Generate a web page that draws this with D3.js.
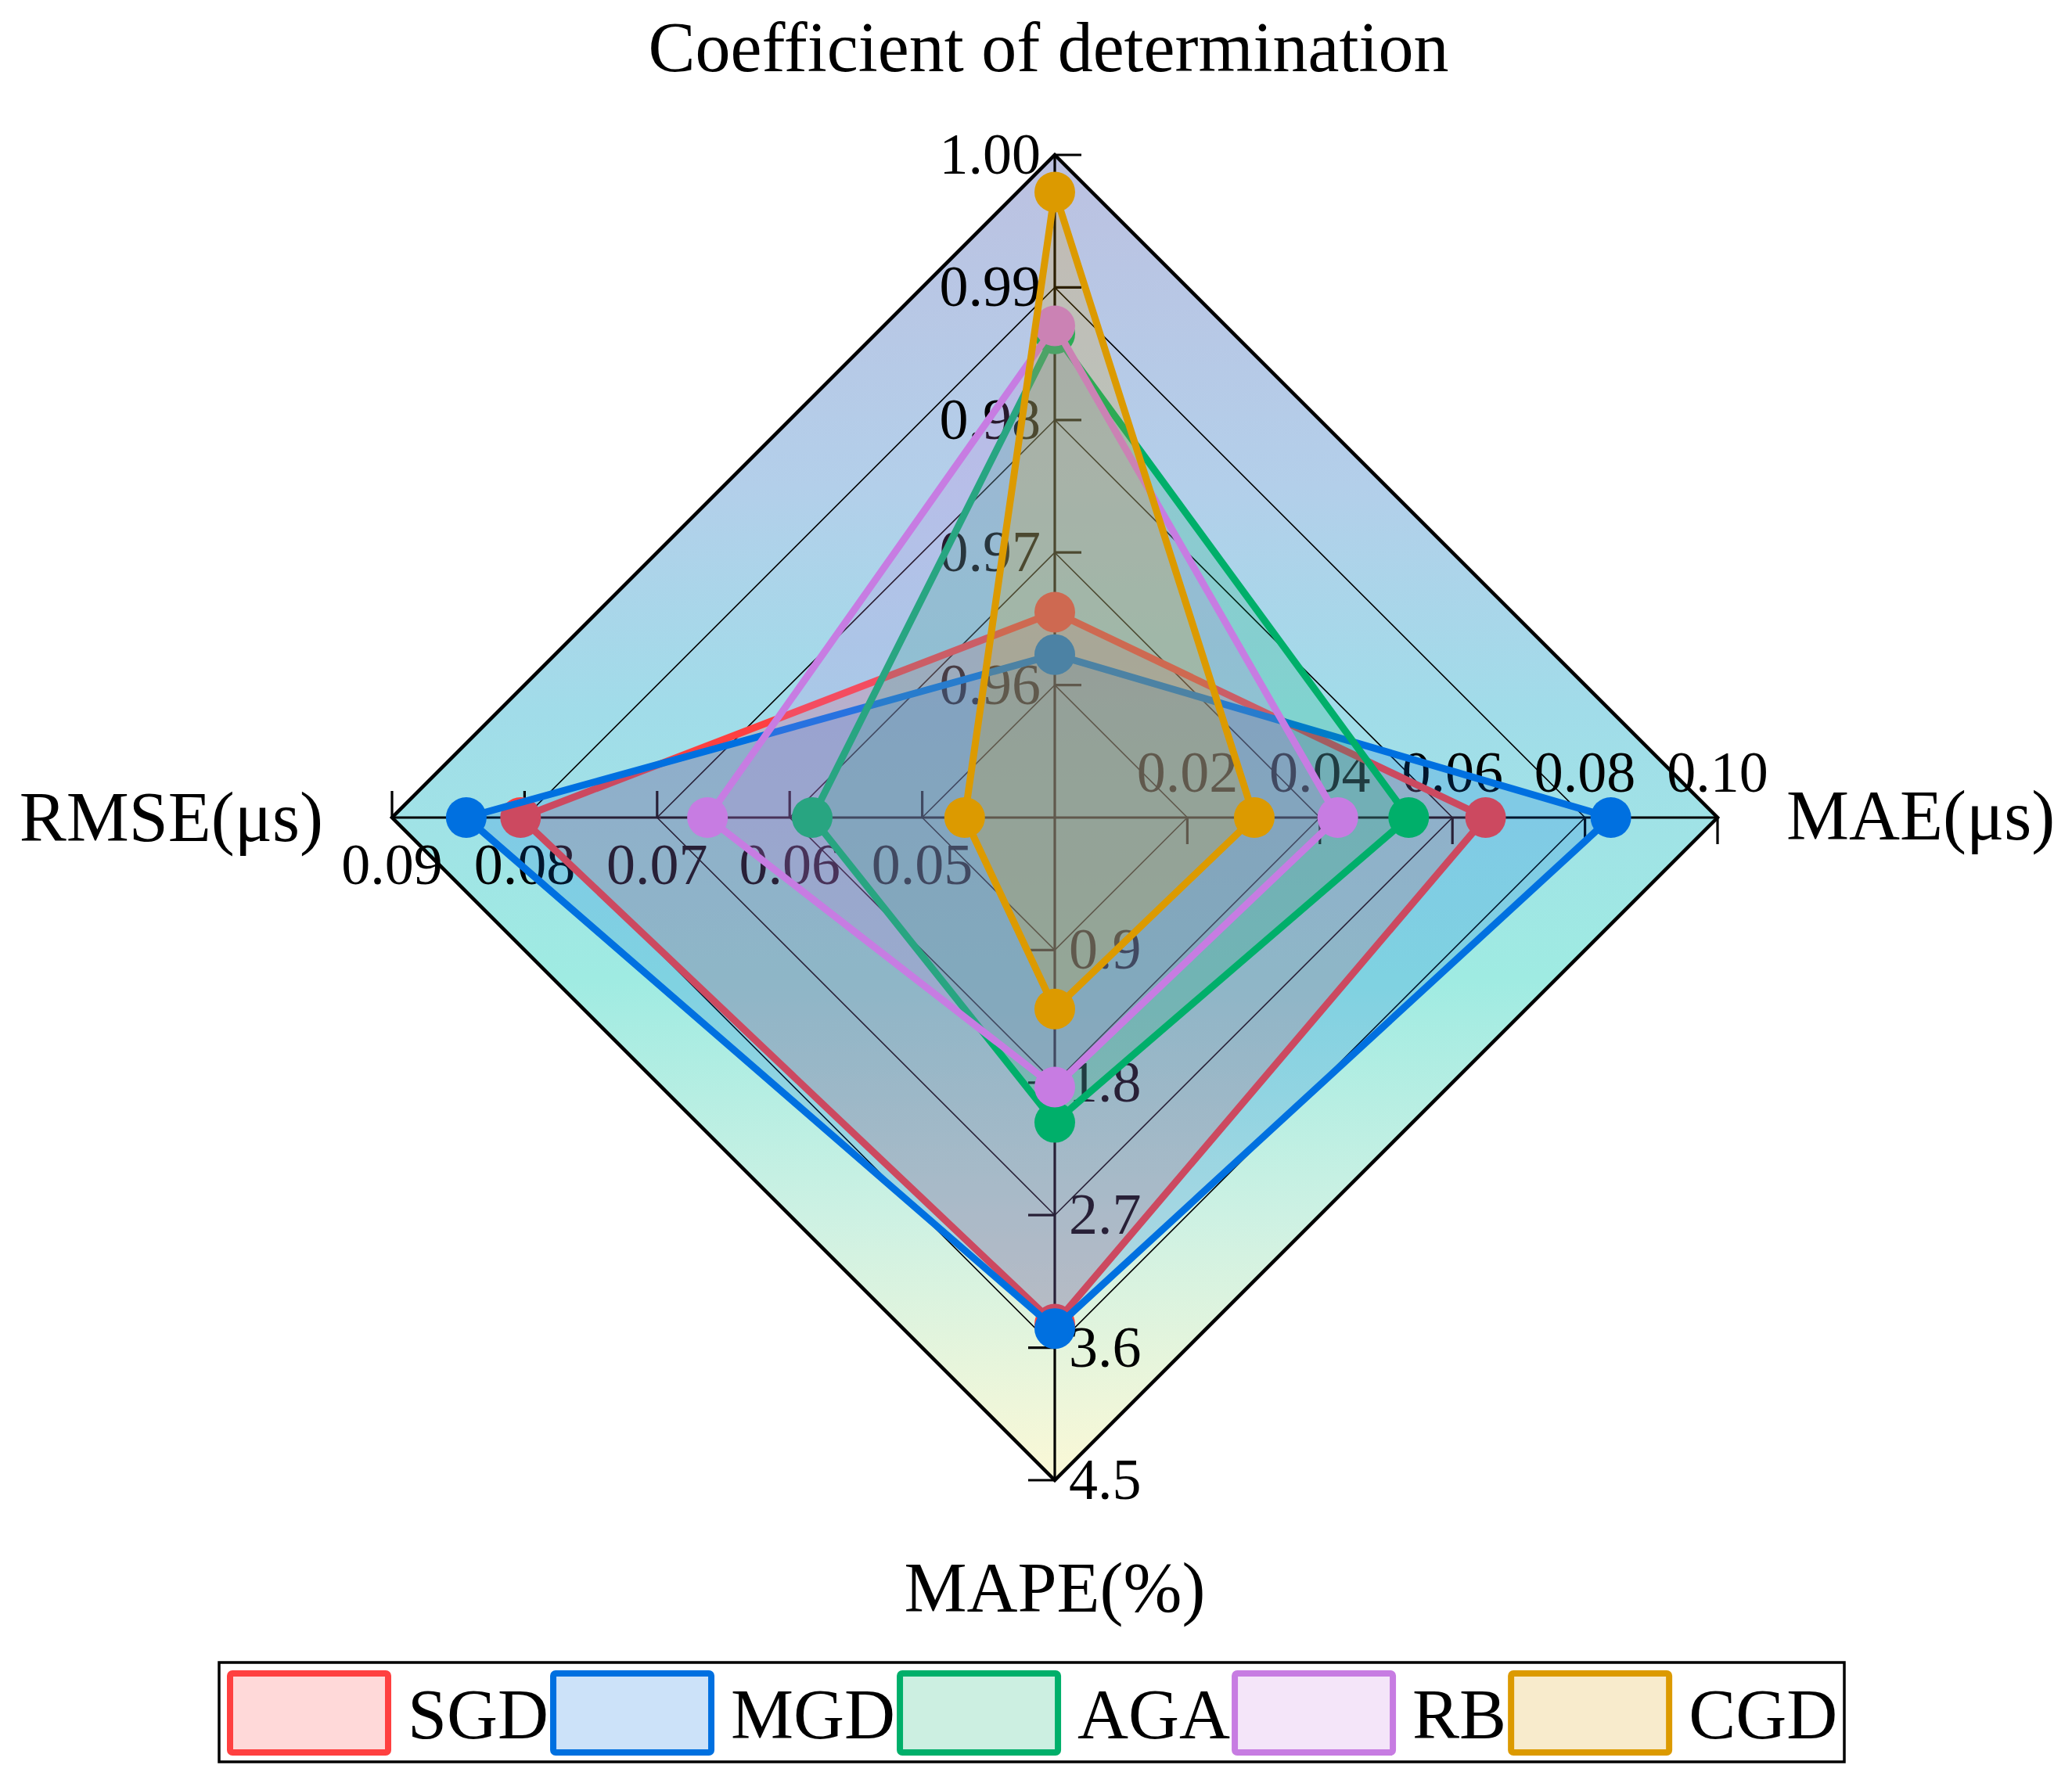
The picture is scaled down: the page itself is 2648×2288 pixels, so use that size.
<!DOCTYPE html>
<html>
<head>
<meta charset="utf-8">
<script src="https://cdn.jsdelivr.net/npm/d3@7"></script>
<style>
  html, body { margin: 0; padding: 0; background: #ffffff; }
  svg { display: block; }
  text { font-family: "Liberation Serif", "Times New Roman", "DejaVu Serif", serif; fill: #000; }
</style>
</head>
<body>
<svg id="chart" width="2648" height="2288"></svg>
<script>
// ---------------- DATA ----------------
const axisNames = ["Coefficient of determination", "MAE(μs)", "MAPE(%)", "RMSE(μs)"];
const axisMin = [0.95, 0.00, 0.0, 0.04];
const axisMax = [1.00, 0.10, 4.5, 0.09];
const r2Ticks = ["0.96", "0.97", "0.98", "0.99", "1.00"];
const maeTicks = ["0.02", "0.04", "0.06", "0.08", "0.10"];
const mapeTicks = ["0.9", "1.8", "2.7", "3.6", "4.5"];
const rmseTicks = ["0.05", "0.06", "0.07", "0.08", "0.09"];
const tickLabels = [r2Ticks, maeTicks, mapeTicks, rmseTicks];

const seriesNames = ["SGD", "MGD", "AGA", "RB", "CGD"];
const seriesColors = ["#FF4040", "#0070E0", "#00AF6A", "#C77CE2", "#DC9A00"];
// values per series: [R2, MAE, MAPE, RMSE]
const sgdValues = [0.9655, 0.0650, 3.44, 0.0803];
const mgdValues = [0.9623, 0.0839, 3.47, 0.0844];
const agaValues = [0.9865, 0.0534, 2.07, 0.0583];
const rbValues  = [0.9871, 0.0427, 1.83, 0.0662];
const cgdValues = [0.9972, 0.0301, 1.30, 0.0468];
const seriesValues = [sgdValues, mgdValues, agaValues, rbValues, cgdValues];

// ---------------- LAYOUT ----------------
const cx = 1348, cy = 1045, R = 847, levels = 5;
const dirs = [[0, -1], [1, 0], [0, 1], [-1, 0]];   // up, right, down, left
const scales = axisMin.map((mn, i) => d3.scaleLinear().domain([mn, axisMax[i]]).range([0, R]));
const levelScale = d3.scaleLinear().domain([0, levels]).range([0, R]);

const svg = d3.select("#chart");
const defs = svg.append("defs");
const grad = defs.append("linearGradient").attr("id", "bg")
  .attr("gradientUnits", "userSpaceOnUse")
  .attr("x1", 0).attr("x2", 0).attr("y1", cy - R).attr("y2", cy + R);
[[0, "#BCC1E1"], [0.25, "#B3CFEA"], [0.42, "#A1DCE9"], [0.62, "#9FEBE2"], [0.8, "#CDF1E3"], [1, "#FBF8D6"]]
  .forEach(([o, c]) => grad.append("stop").attr("offset", o).attr("stop-color", c));

function pt(axis, r) { return [cx + dirs[axis][0] * r, cy + dirs[axis][1] * r]; }
const lineGen = d3.line().curve(d3.curveLinearClosed);

// background diamond
svg.append("path").attr("d", lineGen(d3.range(4).map(a => pt(a, R)))).attr("fill", "url(#bg)");

// grid diamonds
const gridG = svg.append("g");
d3.range(1, levels).forEach(l => {
  gridG.append("path").attr("d", lineGen(d3.range(4).map(a => pt(a, levelScale(l)))))
    .attr("fill", "none").attr("stroke", "#000").attr("stroke-width", 1.6);
});

// axes + ticks
const axG = svg.append("g");
for (let a = 0; a < 4; a++) {
  const [ex, ey] = pt(a, R);
  axG.append("line").attr("x1", cx).attr("y1", cy).attr("x2", ex).attr("y2", ey)
    .attr("stroke", "#000").attr("stroke-width", 3.2);
  const tdx = -dirs[a][1], tdy = dirs[a][0];
  for (let l = 1; l <= levels; l++) {
    const [px, py] = pt(a, levelScale(l));
    axG.append("line").attr("x1", px).attr("y1", py).attr("x2", px + tdx * 34).attr("y2", py + tdy * 34)
      .attr("stroke", "#000").attr("stroke-width", 3.2);
  }
}

// tick labels
const tickFont = 74;
const lblG = svg.append("g").style("font-size", tickFont + "px");
for (let l = 1; l <= levels; l++) {
  const r = levelScale(l);
  // R2 (up)
  let [x, y] = pt(0, r);
  lblG.append("text").attr("x", x - 18).attr("y", y + 24).attr("text-anchor", "end").text(tickLabels[0][l - 1]);
  // MAE (right)
  [x, y] = pt(1, r);
  lblG.append("text").attr("x", x).attr("y", y - 33).attr("text-anchor", "middle").text(tickLabels[1][l - 1]);
  // MAPE (down)
  [x, y] = pt(2, r);
  lblG.append("text").attr("x", x + 18).attr("y", y + 24).attr("text-anchor", "start").text(tickLabels[2][l - 1]);
  // RMSE (left)
  [x, y] = pt(3, r);
  lblG.append("text").attr("x", x).attr("y", y + 85).attr("text-anchor", "middle").text(tickLabels[3][l - 1]);
}

// outer border
svg.append("path").attr("d", lineGen(d3.range(4).map(a => pt(a, R))))
  .attr("fill", "none").attr("stroke", "#000").attr("stroke-width", 4.5).attr("stroke-linejoin", "miter");

// series
seriesValues.forEach((vals, si) => {
  const pts = vals.map((v, a) => pt(a, scales[a](v)));
  const g = svg.append("g");
  g.append("path").attr("d", lineGen(pts)).attr("fill", seriesColors[si]).attr("fill-opacity", 0.2).attr("stroke", "none");
  g.append("path").attr("d", lineGen(pts)).attr("fill", "none").attr("stroke", seriesColors[si])
    .attr("stroke-width", 9).attr("stroke-linejoin", "round");
  g.selectAll("circle").data(pts).join("circle")
    .attr("cx", d => d[0]).attr("cy", d => d[1]).attr("r", 26).attr("fill", seriesColors[si]);
});

// axis titles
const titleG = svg.append("g").style("font-size", "90px");
titleG.append("text").attr("x", cx - 8).attr("y", 91).attr("text-anchor", "middle").text(axisNames[0]);
titleG.append("text").attr("x", cx + R + 88).attr("y", 1073).attr("text-anchor", "start").text(axisNames[1]);
titleG.append("text").attr("x", cx).attr("y", 2060).attr("text-anchor", "middle").text(axisNames[2]);
titleG.append("text").attr("x", cx - R - 88).attr("y", 1075).attr("text-anchor", "end").text(axisNames[3]);

// legend
const legG = svg.append("g");
legG.append("rect").attr("x", 280).attr("y", 2125).attr("width", 2077).attr("height", 127)
  .attr("fill", "#fff").attr("stroke", "#000").attr("stroke-width", 3.5);
let lx = 290;
seriesNames.forEach((name, i) => {
  legG.append("rect").attr("x", lx + 4).attr("y", 2139).attr("width", 202).attr("height", 101)
    .attr("rx", 3).attr("fill", seriesColors[i]).attr("fill-opacity", 0.2)
    .attr("stroke", seriesColors[i]).attr("stroke-width", 8);
  const t = legG.append("text").attr("x", lx + 231).attr("y", 2222).style("font-size", "90px").text(name);
  const w = t.node().getComputedTextLength();
  lx = lx + 231 + w + 2;
});
</script>
</body>
</html>
